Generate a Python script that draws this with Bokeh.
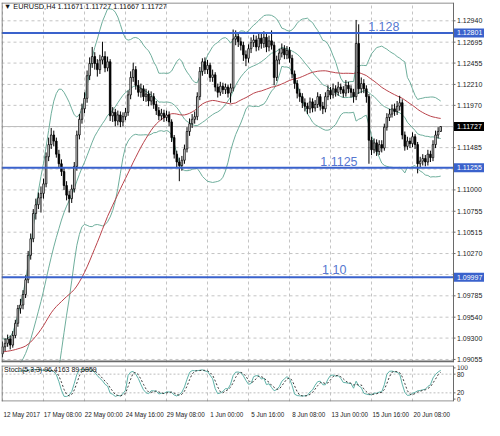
import numpy as np
import pandas as pd
from bokeh.plotting import figure
from bokeh.layouts import column
from bokeh.models import Range1d, FixedTicker, Label, ColumnDataSource
from bokeh.core.properties import value
from bokeh.embed import file_html
from bokeh.resources import INLINE

# ---------------- data ----------------
chart_title = "\u25bc EURUSD,H4  1.11671 1.11727 1.11667 1.11727"
stoch_title = "Stoch(5,3,3) 96.4163 89.6859"

# closes of the 50 H4 bars before the visible window (feed the SMA50 / Bollinger bands)
history_close = [
    1.0895, 1.0900, 1.0905, 1.0898, 1.0902, 1.0910, 1.0920, 1.0925, 1.0930, 1.0928, 1.0922, 1.0918,
    1.0915, 1.0910, 1.0905, 1.0895, 1.0885, 1.0890, 1.0900, 1.0930, 1.0960, 1.0975, 1.0980, 1.0985,
    1.0960, 1.0955, 1.0965, 1.0970, 1.0975, 1.0965, 1.0945, 1.0930, 1.0920, 1.0915, 1.0905, 1.0895,
    1.0890, 1.0885,
    1.0880, 1.0875, 1.0872, 1.0870, 1.0868, 1.0866, 1.0870, 1.0872, 1.0868, 1.0875, 1.0890, 1.0912,
]
first_open = 1.0912

close = [
    1.0920, 1.0924, 1.0929, 1.0922, 1.0933, 1.0947, 1.0964, 1.0968, 1.0980, 1.0997,
    1.1025, 1.1044, 1.1073, 1.1083, 1.1091, 1.1096, 1.1107, 1.1138, 1.1152, 1.1163,
    1.1156, 1.1141, 1.1130, 1.1121, 1.1105, 1.1094, 1.1090, 1.1101, 1.1127, 1.1163,
    1.1181, 1.1193, 1.1205, 1.1231, 1.1245, 1.1253, 1.1245, 1.1238, 1.1249, 1.1253,
    1.1240, 1.1247, 1.1185, 1.1189, 1.1179, 1.1186, 1.1178, 1.1184, 1.1189, 1.1209,
    1.1229, 1.1238, 1.1220, 1.1212, 1.1216, 1.1207, 1.1210, 1.1202, 1.1207, 1.1198,
    1.1191, 1.1185, 1.1188, 1.1183, 1.1186, 1.1178, 1.1160, 1.1141, 1.1132, 1.1128,
    1.1134, 1.1147, 1.1167, 1.1176, 1.1181, 1.1184, 1.1207, 1.1236, 1.1247, 1.1238,
    1.1243, 1.1229, 1.1232, 1.1218, 1.1212, 1.1219, 1.1215, 1.1218, 1.1211, 1.1217,
    1.1273, 1.1276, 1.1270, 1.1266, 1.1255, 1.1251, 1.1262, 1.1269, 1.1272, 1.1264,
    1.1274, 1.1268, 1.1275, 1.1264, 1.1271, 1.1266, 1.1229, 1.1249, 1.1257, 1.1262,
    1.1255, 1.1260, 1.1251, 1.1233, 1.1222, 1.1211, 1.1207, 1.1200, 1.1196, 1.1193,
    1.1201, 1.1194, 1.1198, 1.1207, 1.1196, 1.1193, 1.1207, 1.1214, 1.1209, 1.1216,
    1.1212, 1.1218, 1.1215, 1.1211, 1.1220, 1.1216, 1.1212, 1.1207, 1.1268, 1.1216,
    1.1222, 1.1216, 1.1207, 1.1157, 1.1146, 1.1154, 1.1144, 1.1152, 1.1148, 1.1172,
    1.1183, 1.1187, 1.1193, 1.1190, 1.1196, 1.1200, 1.1163, 1.1150, 1.1156, 1.1153,
    1.1161, 1.1152, 1.1130, 1.1133, 1.1136, 1.1132, 1.1141, 1.1137, 1.1152, 1.1163,
    1.11671, 1.11727,
]

high = [
    1.0926, 1.0930, 1.0934, 1.0933, 1.0938, 1.0951, 1.0968, 1.0975, 1.0985, 1.1002,
    1.1030, 1.1050, 1.1078, 1.1090, 1.1097, 1.1104, 1.1113, 1.1143, 1.1160, 1.1171,
    1.1168, 1.1160, 1.1146, 1.1135, 1.1126, 1.1110, 1.1099, 1.1106, 1.1132, 1.1168,
    1.1187, 1.1199, 1.1212, 1.1237, 1.1252, 1.1264, 1.1258, 1.1250, 1.1255, 1.1270,
    1.1259, 1.1253, 1.1250, 1.1195, 1.1193, 1.1191, 1.1190, 1.1189, 1.1194, 1.1214,
    1.1236, 1.1246, 1.1242, 1.1226, 1.1222, 1.1220, 1.1216, 1.1214, 1.1213, 1.1211,
    1.1202, 1.1195, 1.1193, 1.1192, 1.1191, 1.1190, 1.1181, 1.1163, 1.1145, 1.1137,
    1.1139, 1.1152, 1.1172, 1.1182, 1.1187, 1.1190, 1.1212, 1.1241, 1.1251, 1.1252,
    1.1249, 1.1246, 1.1238, 1.1235, 1.1222, 1.1224, 1.1223, 1.1222, 1.1221, 1.1222,
    1.1284, 1.1283, 1.1280, 1.1275, 1.1270, 1.1260, 1.1267, 1.1275, 1.1278, 1.1277,
    1.1281, 1.1279, 1.1282, 1.1279, 1.1277, 1.1283, 1.1270, 1.1254, 1.1262, 1.1268,
    1.1266, 1.1265, 1.1264, 1.1255, 1.1237, 1.1226, 1.1216, 1.1211, 1.1205, 1.1200,
    1.1206, 1.1205, 1.1203, 1.1212, 1.1210, 1.1201, 1.1212, 1.1220, 1.1218, 1.1222,
    1.1220, 1.1224, 1.1222, 1.1219, 1.1226, 1.1224, 1.1220, 1.1216, 1.1295, 1.1290,
    1.1229, 1.1227, 1.1220, 1.1210, 1.1161, 1.1159, 1.1158, 1.1157, 1.1157, 1.1176,
    1.1188, 1.1193, 1.1198, 1.1199, 1.1202, 1.1208, 1.1204, 1.1167, 1.1161, 1.1160,
    1.1166, 1.1164, 1.1155, 1.1138, 1.1141, 1.1140, 1.1146, 1.1145, 1.1157, 1.1168,
    1.1172, 1.11727,
]

low = [
    1.0908, 1.0915, 1.0920, 1.0917, 1.0919, 1.0930, 1.0943, 1.0958, 1.0963, 1.0976,
    1.0993, 1.1020, 1.1040, 1.1066, 1.1078, 1.1074, 1.1090, 1.1103, 1.1133, 1.1147,
    1.1150, 1.1137, 1.1125, 1.1116, 1.1100, 1.1088, 1.1074, 1.1085, 1.1097, 1.1122,
    1.1158, 1.1176, 1.1188, 1.1200, 1.1226, 1.1240, 1.1238, 1.1230, 1.1233, 1.1244,
    1.1235, 1.1236, 1.1179, 1.1178, 1.1173, 1.1174, 1.1172, 1.1173, 1.1180, 1.1185,
    1.1204, 1.1224, 1.1215, 1.1207, 1.1206, 1.1202, 1.1201, 1.1196, 1.1197, 1.1193,
    1.1186, 1.1180, 1.1180, 1.1178, 1.1179, 1.1173, 1.1155, 1.1136, 1.1126, 1.1110,
    1.1122, 1.1130, 1.1143, 1.1162, 1.1171, 1.1176, 1.1180, 1.1203, 1.1231, 1.1233,
    1.1233, 1.1224, 1.1224, 1.1213, 1.1206, 1.1208, 1.1210, 1.1210, 1.1206, 1.1200,
    1.1213, 1.1266, 1.1264, 1.1260, 1.1248, 1.1242, 1.1246, 1.1257, 1.1264, 1.1259,
    1.1260, 1.1262, 1.1263, 1.1258, 1.1259, 1.1261, 1.1220, 1.1225, 1.1244, 1.1252,
    1.1250, 1.1250, 1.1246, 1.1228, 1.1216, 1.1205, 1.1201, 1.1194, 1.1190, 1.1187,
    1.1188, 1.1189, 1.1190, 1.1194, 1.1191, 1.1187, 1.1189, 1.1203, 1.1204, 1.1205,
    1.1207, 1.1208, 1.1210, 1.1206, 1.1207, 1.1211, 1.1206, 1.1200, 1.1203, 1.1210,
    1.1211, 1.1211, 1.1200, 1.1130, 1.1140, 1.1142, 1.1139, 1.1140, 1.1143, 1.1145,
    1.1168, 1.1179, 1.1183, 1.1185, 1.1186, 1.1191, 1.1158, 1.1145, 1.1146, 1.1148,
    1.1149, 1.1147, 1.1119, 1.1125, 1.1128, 1.1127, 1.1128, 1.1132, 1.1133, 1.1148,
    1.1159, 1.11667,
]

date_tick_bars = [0, 16, 32, 48, 64, 80, 96, 112, 128, 144, 160]
date_tick_labels = ["12 May 2017", "17 May 08:00", "22 May 00:00", "24 May 16:00", "29 May 08:00",
                    "1 Jun 00:00", "5 Jun 16:00", "8 Jun 08:00", "13 Jun 00:00", "15 Jun 16:00",
                    "20 Jun 08:00"]
price_tick_labels = [1.12940, 1.12695, 1.12455, 1.12210, 1.11970, 1.11485, 1.11000,
                     1.10755, 1.10515, 1.10270, 1.09785, 1.09540, 1.09300, 1.09055]
price_grid = price_tick_labels + [1.11725, 1.11240, 1.10030]
levels = [1.12801, 1.11255, 1.09997]
level_names = ["1.128", "1.1125", "1.10"]
bid = 1.11727
stoch_ticks = [0, 20, 80, 100]
stoch_levels = [20, 80]

# ---------------- derived indicators ----------------
n = len(close)
idx = np.arange(n)
opens = [first_open] + close[:-1]

all_close = pd.Series(history_close + close)
sma50 = all_close.rolling(50).mean().values[-n:]
mid_s = all_close.rolling(20).mean()
sd_s = all_close.rolling(20).std(ddof=0)
upper = (mid_s + 2 * sd_s).values[-n:]
lower = (mid_s - 2 * sd_s).values[-n:]
mid = mid_s.values[-n:]

c_s = pd.Series(close)
hh = pd.Series(high).rolling(5).max()
ll = pd.Series(low).rolling(5).min()
k = 100 * (c_s - ll).rolling(3).sum() / (hh - ll).rolling(3).sum()
d = k.rolling(3).mean()

inc = [c >= o for c, o in zip(close, opens)]
src = ColumnDataSource(dict(
    x=idx, top=[max(o, c) for o, c in zip(opens, close)], bottom=[min(o, c) for o, c in zip(opens, close)],
    high=high, low=low,
    fill=["#ffffff" if f else "#000000" for f in inc],
))

# ---------------- styling / layout constants ----------------
FONT = "Liberation Sans"
GRID = "#c4c4c4"
FRAME = "#6a6a6a"
BB = "#6fae9c"
MA = "#b9434b"
BLUE = "#3a62cc"
TXT = "#222222"

W = 484
MAIN_H, MAIN_TOP, MAIN_BOT = 365, 2, 3
SUB_H = 55
AXIS_W = 31                      # width of the price scale strip
X0, XA = -0.4, 176.0             # first bar edge / price-scale boundary (bar units)
frame_w = W - 1
px_per_bar = (frame_w - AXIS_W) / (XA - X0)
X1 = XA + AXIS_W / px_per_bar
Y0, Y1 = 1.0902, 1.1315
main_frame_h = MAIN_H - MAIN_TOP - MAIN_BOT
ppx = (Y1 - Y0) / main_frame_h    # price per pixel
LBL_X = XA + 3.5 / px_per_bar
TICK_X = XA + 2.0 / px_per_bar
EDGE = 0.5 / px_per_bar

# ---------------- main chart ----------------
main = figure(width=W, height=MAIN_H, x_range=Range1d(X0, X1), y_range=Range1d(Y0, Y1),
              x_axis_location=None, y_axis_location=None, toolbar_location=None,
              output_backend="svg", min_border_left=1, min_border_right=0,
              min_border_top=MAIN_TOP, min_border_bottom=MAIN_BOT)
main.outline_line_color = None
main.border_fill_color = "white"
main.xgrid.visible = False
main.ygrid.visible = False

# grid
main.segment(x0=X0, x1=XA, y0=price_grid, y1=price_grid, line_color=GRID, line_dash="3 3", line_width=1)
main.segment(x0=date_tick_bars, x1=date_tick_bars, y0=Y0, y1=Y1, line_color=GRID, line_dash="3 3", line_width=1)
# bid line
main.segment(x0=X0, x1=XA, y0=bid, y1=bid, line_color="#bdbdbd", line_width=1)

# indicators
main.line(idx, upper, line_color=BB, line_width=1)
main.line(idx, mid, line_color=BB, line_width=1)
main.line(idx, lower, line_color=BB, line_width=1)
main.line(idx, sma50, line_color=MA, line_width=1)

# candles
main.segment(x0="x", y0="low", x1="x", y1="high", source=src, line_color="black", line_width=1)
main.vbar(x="x", width=0.62, top="top", bottom="bottom", source=src,
          fill_color="fill", line_color="black", line_width=0.8)

# horizontal levels and their captions
main.segment(x0=X0, x1=XA, y0=levels, y1=levels, line_color=BLUE, line_width=2)
caption_x = [142.7, 124.0, 124.7]          # bar position of caption's left edge
caption_gap_px = [6.0, 6.5, 7.5]           # gap between caption baseline and its line
for name, lv, tx, gap in zip(level_names, levels, caption_x, caption_gap_px):
    main.add_layout(Label(x=tx, y=lv + gap * ppx, text=name, text_color="#5677d0", text_font=FONT,
                          text_font_size="12.5px", text_baseline="alphabetic", text_align="left"))

main.add_layout(Label(x=0.6, y=1.13105, text=chart_title, text_font=FONT, text_font_size="7.3px",
                      text_color="#111111", text_baseline="middle"))

# frame
main.segment(x0=[X0 + EDGE, XA], x1=[X0 + EDGE, XA], y0=Y0, y1=Y1, line_color=FRAME, line_width=1)
main.segment(x0=X0, x1=XA, y0=[Y1 - 0.5 * ppx, Y0 + 1.0 * ppx], y1=[Y1 - 0.5 * ppx, Y0 + 1.0 * ppx],
             line_color=FRAME, line_width=[1, 2])

# price scale
main.segment(x0=XA, x1=TICK_X, y0=price_tick_labels, y1=price_tick_labels, line_color=FRAME)
main.text(x=LBL_X, y=price_tick_labels, text=[f"{p:.5f}" for p in price_tick_labels],
          text_font=value(FONT), text_font_size=value("7px"), text_color=TXT,
          text_baseline="middle", text_align="left")
box_prices = levels + [bid]
box_colors = [BLUE, BLUE, BLUE, "#000000"]
main.quad(left=XA + EDGE, right=X1, top=[p + 4.5 * ppx for p in box_prices],
          bottom=[p - 4.5 * ppx for p in box_prices], fill_color=box_colors, line_color=None)
main.text(x=LBL_X, y=box_prices, text=[f"{p:.5f}" for p in box_prices],
          text_font=value(FONT), text_font_size=value("7px"), text_color="white",
          text_baseline="middle", text_align="left")

# ---------------- stochastic sub-window ----------------
S0, S1 = -7.7, 107.7
sub = figure(width=W, height=SUB_H, x_range=main.x_range, y_range=Range1d(S0, S1),
             y_axis_location=None, toolbar_location=None, output_backend="svg",
             min_border_left=1, min_border_right=0, min_border_top=0, min_border_bottom=0)
sub.outline_line_color = None
sub.xgrid.visible = False
sub.ygrid.visible = False
sub_frame_h = SUB_H - 13
spx = (S1 - S0) / sub_frame_h

sub.segment(x0=date_tick_bars, x1=date_tick_bars, y0=S0, y1=S1, line_color=GRID, line_dash="3 3")
sub.segment(x0=X0, x1=XA, y0=stoch_levels, y1=stoch_levels, line_color="#bdbdbd", line_dash="2 2")

label_offset = 7.5
xa = sub.xaxis[0]
xa.ticker = FixedTicker(ticks=[b + label_offset for b in date_tick_bars])
xa.major_label_overrides = {b + label_offset: t for b, t in zip(date_tick_bars, date_tick_labels)}
xa.major_label_text_font_size = "6.3px"
xa.major_label_text_font = FONT
xa.major_label_text_color = TXT
xa.major_tick_line_color = None
xa.minor_tick_line_color = None
xa.major_label_standoff = 3
xa.axis_line_color = None

sub.line(idx, k.values, line_color="#5fb3a9", line_width=1)
sub.line(idx, d.values, line_color="#3c3c3c", line_width=1, line_dash="2 2")
sub.add_layout(Label(x=0.6, y=95, text=stoch_title, text_font=FONT, text_font_size="7px",
                     text_color="#111111", text_baseline="middle"))

sub.segment(x0=[X0 + EDGE, XA], x1=[X0 + EDGE, XA], y0=S0, y1=S1, line_color=FRAME)
sub.segment(x0=X0, x1=XA, y0=[S1 - 0.5 * spx, S0 + 0.5 * spx], y1=[S1 - 0.5 * spx, S0 + 0.5 * spx],
            line_color=FRAME)
sub.segment(x0=XA, x1=TICK_X, y0=stoch_ticks, y1=stoch_ticks, line_color=FRAME)
sub.text(x=LBL_X, y=stoch_ticks, text=[str(t) for t in stoch_ticks],
         text_font=value(FONT), text_font_size=value("6.5px"), text_color=TXT,
         text_baseline="middle", text_align="left")

layout = column(main, sub)
open("out.html", "w").write(file_html(layout, INLINE))
